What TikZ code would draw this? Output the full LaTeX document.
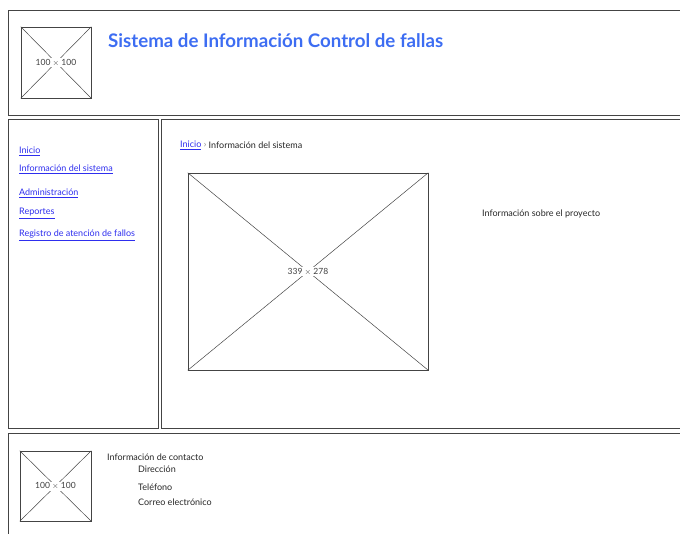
\documentclass[tikz,border=0pt]{standalone}
\usepackage{fontspec}
\setmainfont{Lato}
\usetikzlibrary{positioning,calc}
\definecolor{titleblue}{HTML}{3D6DF2}
\definecolor{linkblue}{HTML}{2E2EEE}
\definecolor{frame}{HTML}{444444}
\newcommand{\lnk}[1]{\underline{#1}}
\tikzset{
    panel/.style={draw=frame, line width=0.9pt},
    imgbox/.style={draw=frame, line width=0.6pt, inner sep=0pt},
    cross/.style={draw=frame, line width=0.5pt},
    imglabel/.style={fill=white, inner sep=1pt, font=\fontsize{8.5}{10}\selectfont, text=black!75},
    link/.style={text=linkblue, font=\fontsize{9}{11}\selectfont, anchor=west, inner sep=0pt},
    plain/.style={text=black!85, font=\fontsize{9}{11}\selectfont, anchor=west, inner sep=0pt}
}

\begin{document}
\begin{tikzpicture}[x=1pt, y=-1pt]
    \useasboundingbox (0,0) rectangle (680,533);
    \clip (0,0) rectangle (680,533);

    % panels
    \draw[panel] (8,10) rectangle (700,115);
    \draw[panel] (8,119) rectangle (158,428);
    \draw[panel] (161,119) rectangle (700,428);
    \draw[panel] (8,433) rectangle (700,560);

    % header
    \node[imgbox, minimum width=70pt, minimum height=71pt] (logo) at (56,62.5) {};
    \draw[cross] (logo.north west) -- (logo.south east);
    \draw[cross] (logo.north east) -- (logo.south west);
    \node[imglabel] (logolabel) at (logo.center) {100 $\times$ 100};
    \node[anchor=west, inner sep=0pt, text=titleblue, font=\fontsize{18.7}{22}\selectfont\bfseries] (title) at (108,40.5) {Sistema de Información Control de fallas};

    % menu
    \node[link] (inicio) at (19,151.5) {\lnk{Inicio}};
    \node[link] (infosis) at (19,169.5) {\lnk{Información del sistema}};
    \node[link] (admin) at (19,193.5) {\lnk{Administración}};
    \node[link] (reportes) at (19,213.5) {\lnk{Reportes}};
    \node[link] (registro) at (19,235.5) {\lnk{Registro de atención de fallos}};

    % content
    \node[link] (miga) at (180,145.5) {\lnk{Inicio}};
    \node[plain, right=2pt of miga] (sep) {\textcolor{black!50}{›}};
    \node[plain, right=2pt of sep] (actual) {Información del sistema};
    \node[imgbox, minimum width=240pt, minimum height=197pt] (foto) at (308,271.5) {};
    \draw[cross] (foto.north west) -- (foto.south east);
    \draw[cross] (foto.north east) -- (foto.south west);
    \node[imglabel] (fotolabel) at (foto.center) {339 $\times$ 278};
    \node[plain] (proyecto) at (482,213.5) {Información sobre el proyecto};

    % footer
    \node[imgbox, minimum width=71pt, minimum height=70pt] (pielogo) at (55.5,486) {};
    \draw[cross] (pielogo.north west) -- (pielogo.south east);
    \draw[cross] (pielogo.north east) -- (pielogo.south west);
    \node[imglabel] (pielabel) at (pielogo.center) {100 $\times$ 100};
    \node[plain] (contacto) at (107,457.5) {Información de contacto};
    \node[plain] (direccion) at (138,469.5) {Dirección};
    \node[plain] (telefono) at (138,487.5) {Teléfono};
    \node[plain] (correo) at (138,502.5) {Correo electrónico};
\end{tikzpicture}
\end{document}
